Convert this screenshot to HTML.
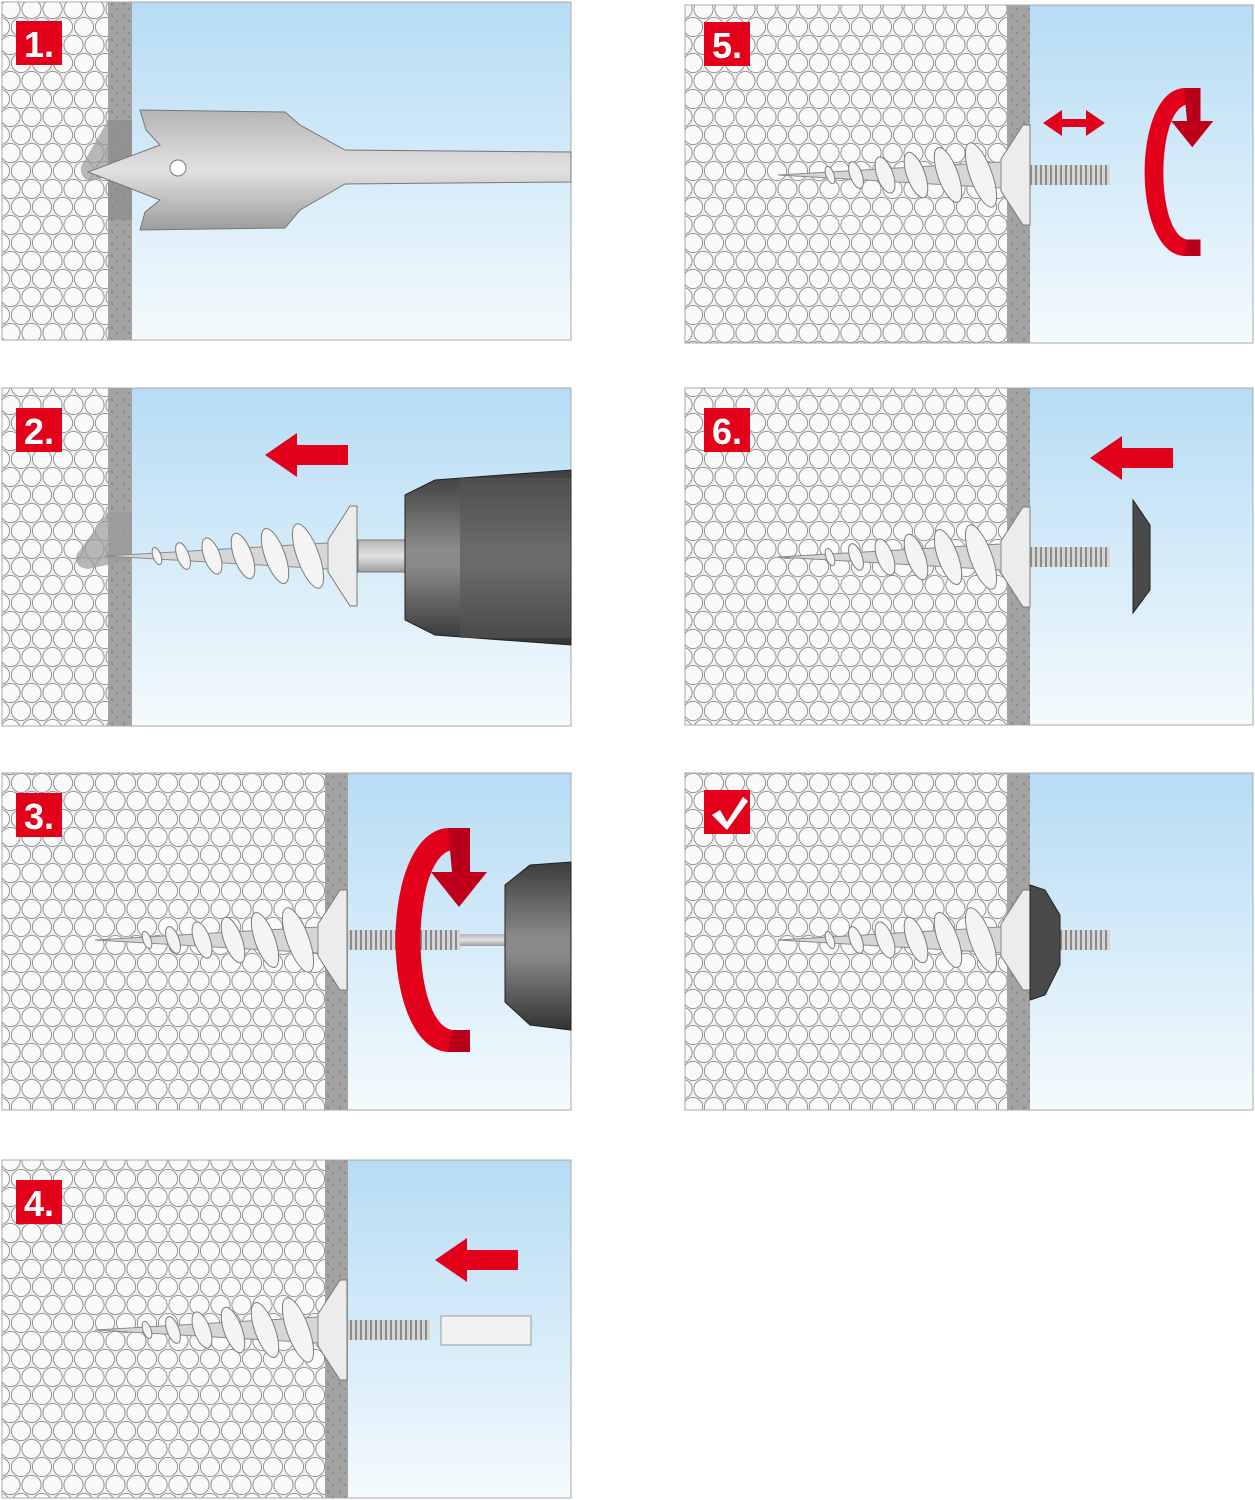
<!DOCTYPE html>
<html><head><meta charset="utf-8"><style>html,body{margin:0;padding:0;background:#fff}svg{display:block}</style></head><body>
<svg width="1255" height="1500" viewBox="0 0 1255 1500" xmlns="http://www.w3.org/2000/svg" font-family="Liberation Sans, sans-serif">
<defs>
<pattern id="foam" width="21" height="36" patternUnits="userSpaceOnUse">
<rect width="21" height="36" fill="#f3f3f3"/>
<g fill="#fafafa" stroke="#8a8a8a" stroke-width="0.9">
<circle cx="10.5" cy="9" r="9.6"/><circle cx="0" cy="27" r="9.6"/><circle cx="21" cy="27" r="9.6"/><circle cx="10.5" cy="45" r="9.6"/><circle cx="0" cy="-9" r="9.6"/><circle cx="21" cy="-9" r="9.6"/>
</g></pattern>
<pattern id="plaster" width="12" height="12" patternUnits="userSpaceOnUse">
<rect width="12" height="12" fill="#a3a3a3"/><rect x="3" y="2" width="2" height="3" fill="#8c8c8c"/><rect x="8" y="8" width="2" height="2" fill="#8c8c8c"/></pattern>
<linearGradient id="sky" x1="0" y1="0" x2="0" y2="1"><stop offset="0" stop-color="#b6dcf4"/><stop offset="1" stop-color="#f4fafd"/></linearGradient>
<linearGradient id="metal" x1="0" y1="0" x2="0" y2="1"><stop offset="0" stop-color="#b4b4b4"/><stop offset="0.5" stop-color="#e2e2e2"/><stop offset="1" stop-color="#9c9c9c"/></linearGradient>
<linearGradient id="chuck" x1="0" y1="0" x2="0" y2="1"><stop offset="0" stop-color="#3c3c3c"/><stop offset="0.45" stop-color="#8a8a8a"/><stop offset="0.55" stop-color="#8a8a8a"/><stop offset="1" stop-color="#333"/></linearGradient>
<pattern id="thread" width="5" height="20" patternUnits="userSpaceOnUse"><rect width="5" height="20" fill="#d5d5d5"/><rect width="2" height="20" fill="#8a8a8a"/></pattern>
<g id="screw">
<path d="M0,-50 L7,-50 L7,50 L0,50 L-22,16 L-22,-16 Z" fill="#ececec" stroke="#7a7a7a"/>
<path d="M-22,-13 L-245,0 L-22,13 Z" fill="#d6d6d6" stroke="#8a8a8a"/>
<g fill="#f4f4f4" stroke="#7c7c7c" stroke-width="1">
<ellipse cx="-42" cy="0" rx="11" ry="34" transform="rotate(-20 -42 0)"/>
<ellipse cx="-75" cy="0" rx="10" ry="29" transform="rotate(-20 -75 0)"/>
<ellipse cx="-107" cy="0" rx="9" ry="24" transform="rotate(-20 -107 0)"/>
<ellipse cx="-138" cy="0" rx="8" ry="19" transform="rotate(-20 -138 0)"/>
<ellipse cx="-167" cy="0" rx="6" ry="14" transform="rotate(-20 -167 0)"/>
<ellipse cx="-193" cy="0" rx="4" ry="9" transform="rotate(-20 -193 0)"/>
</g></g>
<g id="cw">
<path d="M8,-112 C-62,-108 -62,108 8,112 L30,112 L30,90 L12,90 C-30,82 -30,-82 12,-90 L30,-90 L30,-112 Z" fill="#e3001b"/>
<path d="M8,-112 L30,-112 L30,-68 L12,-68 Z" fill="#b8001a"/>
<path d="M-9,-68 L47,-68 L19,-33 Z" fill="#c0001a"/>
<path d="M12,90 L30,90 L30,112 L8,112 Z" fill="#b8001a"/>
</g>
<path id="larrow" d="M0,0 L32,-22 L32,-10 L83,-10 L83,10 L32,10 L32,22 Z" fill="#e3001b"/>
</defs>

<rect x="2" y="2" width="106" height="338" fill="url(#foam)"/><rect x="108" y="2" width="24" height="338" fill="url(#plaster)"/><rect x="132" y="2" width="439" height="338" fill="url(#sky)"/><rect x="2" y="2" width="569" height="338" fill="none" stroke="#aaa"/>
<rect x="2" y="388" width="106" height="338" fill="url(#foam)"/><rect x="108" y="388" width="24" height="338" fill="url(#plaster)"/><rect x="132" y="388" width="439" height="338" fill="url(#sky)"/><rect x="2" y="388" width="569" height="338" fill="none" stroke="#aaa"/>
<rect x="2" y="773" width="323" height="337" fill="url(#foam)"/><rect x="325" y="773" width="23" height="337" fill="url(#plaster)"/><rect x="348" y="773" width="223" height="337" fill="url(#sky)"/><rect x="2" y="773" width="569" height="337" fill="none" stroke="#aaa"/>
<rect x="2" y="1160" width="323" height="338" fill="url(#foam)"/><rect x="325" y="1160" width="23" height="338" fill="url(#plaster)"/><rect x="348" y="1160" width="223" height="338" fill="url(#sky)"/><rect x="2" y="1160" width="569" height="338" fill="none" stroke="#aaa"/>
<rect x="685" y="5" width="322" height="338" fill="url(#foam)"/><rect x="1007" y="5" width="23" height="338" fill="url(#plaster)"/><rect x="1030" y="5" width="223" height="338" fill="url(#sky)"/><rect x="685" y="5" width="568" height="338" fill="none" stroke="#aaa"/>
<rect x="685" y="388" width="322" height="337" fill="url(#foam)"/><rect x="1007" y="388" width="23" height="337" fill="url(#plaster)"/><rect x="1030" y="388" width="223" height="337" fill="url(#sky)"/><rect x="685" y="388" width="568" height="337" fill="none" stroke="#aaa"/>
<rect x="685" y="773" width="322" height="337" fill="url(#foam)"/><rect x="1007" y="773" width="23" height="337" fill="url(#plaster)"/><rect x="1030" y="773" width="223" height="337" fill="url(#sky)"/><rect x="685" y="773" width="568" height="337" fill="none" stroke="#aaa"/>

<path d="M85,160 C75,170 85,185 95,180 L132,170 L132,120 L108,120 Z" fill="#9a9a9a" opacity="0.7"/>
<rect x="108" y="120" width="24" height="100" fill="#8a8a8a" opacity="0.6"/>
<path d="M140,110 L285,112 L300,125 L345,150 L571,152 L571,182 L345,184 L300,210 L285,228 L140,230 L145,212 L160,200 L88,172 L160,145 L146,130 Z" fill="url(#metal)" stroke="#777"/>
<circle cx="178" cy="168" r="8" fill="#fff" stroke="#777"/>

<path d="M80,550 C70,560 80,572 92,568 L132,560 L132,512 L108,512 Z" fill="#9a9a9a" opacity="0.7"/>
<use href="#screw" x="350" y="556"/>
<rect x="358" y="540" width="50" height="32" fill="url(#metal)" stroke="#777"/>
<path d="M405,495 L435,480 L571,470 L571,645 L435,635 L405,620 Z" fill="url(#chuck)" stroke="#222"/>
<rect x="460" y="478" width="111" height="160" fill="#555" opacity="0.6"/>
<use href="#larrow" x="265" y="455"/>

<use href="#screw" x="340" y="940"/>
<rect x="348" y="930" width="112" height="20" fill="url(#thread)"/>
<rect x="460" y="934" width="50" height="12" fill="url(#metal)"/>
<path d="M505,885 L530,865 L571,862 L571,1030 L530,1025 L505,1002 Z" fill="url(#chuck)" stroke="#222"/>
<use href="#cw" x="440" y="940"/>

<use href="#screw" x="340" y="1330"/>
<rect x="348" y="1320" width="82" height="20" fill="url(#thread)"/>
<rect x="441" y="1316" width="90" height="29" fill="#f2f2f2" stroke="#999"/>
<use href="#larrow" x="435" y="1260"/>

<use href="#screw" x="1023" y="175"/>
<rect x="1030" y="165" width="80" height="20" fill="url(#thread)"/>
<path d="M1043,123 L1062,110 L1062,119 L1086,119 L1086,110 L1105,123 L1086,136 L1086,127 L1062,127 L1062,136 Z" fill="#e3001b"/>
<g transform="translate(1178 172) scale(0.75)"><use href="#cw" x="0" y="0"/></g>

<use href="#screw" x="1023" y="557"/>
<rect x="1030" y="547" width="80" height="20" fill="url(#thread)"/>
<path d="M1133,500 L1150,525 L1150,590 L1133,613 Z" fill="#4a4a4a" stroke="#222"/>
<use href="#larrow" x="1090" y="458"/>

<use href="#screw" x="1023" y="940"/>
<rect x="1030" y="930" width="80" height="20" fill="url(#thread)"/>
<path d="M1030,885 L1045,890 L1060,915 L1060,965 L1045,995 L1030,1000 Z" fill="#4a4a4a" stroke="#222"/>

<g font-weight="bold" font-size="36" fill="#fff">
<rect x="16" y="21" width="46" height="44" fill="#e3001b"/><text x="24" y="57">1.</text>
<rect x="16" y="408" width="46" height="44" fill="#e3001b"/><text x="24" y="444">2.</text>
<rect x="16" y="793" width="46" height="44" fill="#e3001b"/><text x="24" y="829">3.</text>
<rect x="16" y="1180" width="46" height="44" fill="#e3001b"/><text x="24" y="1216">4.</text>
<rect x="704" y="22" width="46" height="44" fill="#e3001b"/><text x="712" y="58">5.</text>
<rect x="704" y="408" width="46" height="44" fill="#e3001b"/><text x="712" y="444">6.</text>
<rect x="704" y="790" width="46" height="44" fill="#e3001b"/>
</g>
<path d="M712,815 L720,810 L727,822 L743,797 L748,801 L727,830 Z" fill="#fff"/>
</svg>
</body></html>
